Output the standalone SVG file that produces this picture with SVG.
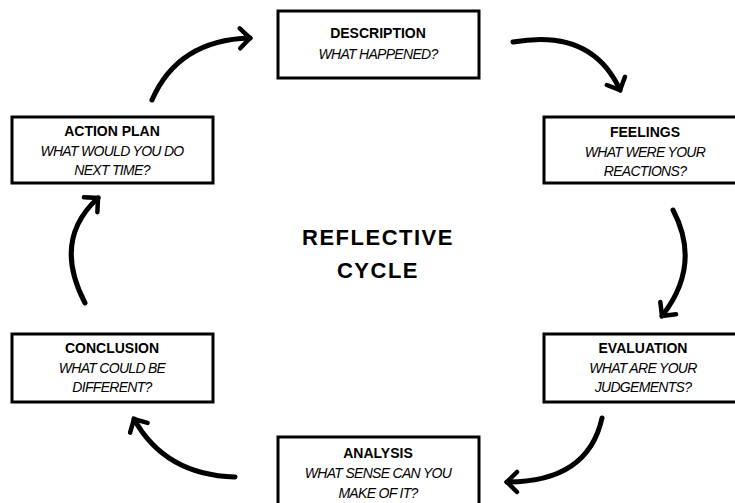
<svg xmlns="http://www.w3.org/2000/svg" width="735" height="503" viewBox="0 0 735 503">
<defs>
<style>
.box{fill:#fff;stroke:#000;stroke-width:3}
.t{font-family:"Liberation Sans",Arial,sans-serif;font-size:14px;font-weight:bold;text-anchor:middle;fill:#000}
.s{font-family:"Liberation Sans",Arial,sans-serif;font-size:14px;font-style:italic;letter-spacing:-0.7px;text-anchor:middle;fill:#000}
.c{font-family:"Liberation Sans",Arial,sans-serif;font-size:22px;font-weight:bold;letter-spacing:1.5px;text-anchor:middle;fill:#000}
.arr{fill:none;stroke:#000;stroke-width:5;stroke-linecap:round;marker-end:url(#head)}
</style>
<marker id="head" markerUnits="userSpaceOnUse" viewBox="-14 -12 18 24" refX="0" refY="0" markerWidth="18" markerHeight="24" orient="auto" overflow="visible">
<path d="M-10,-10 L0,0 L-10,10" fill="none" stroke="#000" stroke-width="4.5" stroke-linecap="round" stroke-linejoin="miter"/>
</marker>
</defs>
<rect width="735" height="503" fill="#fff"/>
<g id="connectors">
<path class="arr" d="M152,100 Q178,40 250,38"/>
<path class="arr" d="M513,42 Q592,28 620,90"/>
<path class="arr" d="M673,210 Q702,265 662,316"/>
<path class="arr" d="M602,418 Q588,482 507,482"/>
<path class="arr" d="M235,477 Q165,475 134,419"/>
<path class="arr" d="M85,303 Q52,240 98,198"/>
</g>
<g id="description">
<rect class="box" x="278" y="11" width="201" height="67"/>
<text class="t" x="378" y="38">DESCRIPTION</text>
<text class="s" x="378" y="59">WHAT HAPPENED?</text>
</g>
<g id="feelings">
<rect class="box" x="544" y="117" width="195" height="66"/>
<text class="t" x="645" y="137">FEELINGS</text>
<text class="s" x="645" y="157">WHAT WERE YOUR</text>
<text class="s" x="645" y="176">REACTIONS?</text>
</g>
<g id="evaluation">
<rect class="box" x="544" y="334" width="195" height="68"/>
<text class="t" x="643" y="353">EVALUATION</text>
<text class="s" x="643" y="373">WHAT ARE YOUR</text>
<text class="s" x="643" y="392">JUDGEMENTS?</text>
</g>
<g id="analysis">
<rect class="box" x="278" y="437" width="201" height="75"/>
<text class="t" x="378" y="458">ANALYSIS</text>
<text class="s" x="378" y="478">WHAT SENSE CAN YOU</text>
<text class="s" x="378" y="498">MAKE OF IT?</text>
</g>
<g id="conclusion">
<rect class="box" x="12" y="334" width="201" height="68"/>
<text class="t" x="112" y="353">CONCLUSION</text>
<text class="s" x="112" y="373">WHAT COULD BE</text>
<text class="s" x="112" y="392">DIFFERENT?</text>
</g>
<g id="action-plan">
<rect class="box" x="12" y="117" width="201" height="66"/>
<text class="t" x="112" y="136">ACTION PLAN</text>
<text class="s" x="112" y="156">WHAT WOULD YOU DO</text>
<text class="s" x="112" y="175">NEXT TIME?</text>
</g>
<g id="title">
<text class="c" x="378" y="245">REFLECTIVE</text>
<text class="c" x="378" y="278">CYCLE</text>
</g>
</svg>
